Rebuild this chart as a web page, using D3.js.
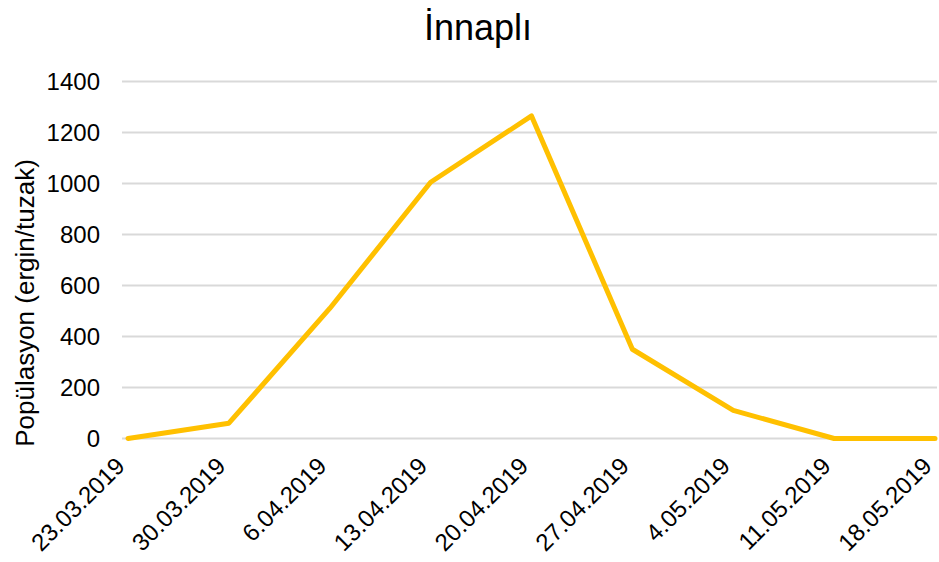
<!DOCTYPE html>
<html>
<head>
<meta charset="utf-8">
<script src="https://cdn.jsdelivr.net/npm/d3@7"></script>
<style>
  body { margin: 0; background: #fff; }
  svg text { font-family: "Liberation Sans", Arial, sans-serif; fill: #000; }
</style>
</head>
<body>
<svg id="chart" width="939" height="562"></svg>
<script>
const dates = ['23.03.2019', '30.03.2019', '6.04.2019', '13.04.2019', '20.04.2019',
               '27.04.2019', '4.05.2019', '11.05.2019', '18.05.2019'];
const population = [0, 60, 510, 1005, 1265, 350, 110, 0, 0];
const yTicks = [0, 200, 400, 600, 800, 1000, 1200, 1400];

const svg = d3.select('#chart');
const plot = {left: 122, right: 937, top: 81.5, bottom: 438.5};

const x = d3.scalePoint()
            .domain(dates)
            .range([128, 935]);
const y = d3.scaleLinear()
            .domain([0, 1400])
            .range([plot.bottom, plot.top]);

// gridlines
svg.append('g')
   .selectAll('line')
   .data(yTicks)
   .enter()
   .append('line')
   .attr('x1', plot.left)
   .attr('x2', plot.right)
   .attr('y1', d => y(d))
   .attr('y2', d => y(d))
   .attr('stroke', '#d9d9d9')
   .attr('stroke-width', 2);

// y tick labels
svg.append('g')
   .selectAll('text')
   .data(yTicks)
   .enter()
   .append('text')
   .attr('x', 100)
   .attr('y', d => y(d))
   .attr('dy', '0.35em')
   .attr('text-anchor', 'end')
   .attr('font-size', '24px')
   .text(d => d);

// x tick labels, rotated
svg.append('g')
   .selectAll('text')
   .data(dates)
   .enter()
   .append('text')
   .attr('transform', d => `translate(${x(d) - 7},${plot.bottom + 24}) rotate(-45)`)
   .attr('text-anchor', 'end')
   .attr('dy', '0.3em')
   .attr('font-size', '24px')
   .text(d => d);

// line
const line = d3.line()
               .x((d, i) => x(dates[i]))
               .y(d => y(d));
svg.append('path')
   .attr('d', line(population))
   .attr('fill', 'none')
   .attr('stroke', '#FFC000')
   .attr('stroke-width', 5)
   .attr('stroke-linejoin', 'round')
   .attr('stroke-linecap', 'round');

// title
svg.append('text')
   .attr('x', 478)
   .attr('y', 40)
   .attr('text-anchor', 'middle')
   .attr('font-size', '36px')
   .text('İnnaplı');

// y axis title
svg.append('text')
   .attr('transform', 'translate(34,303) rotate(-90)')
   .attr('text-anchor', 'middle')
   .attr('font-size', '26px')
   .text('Popülasyon (ergin/tuzak)');
</script>
</body>
</html>
